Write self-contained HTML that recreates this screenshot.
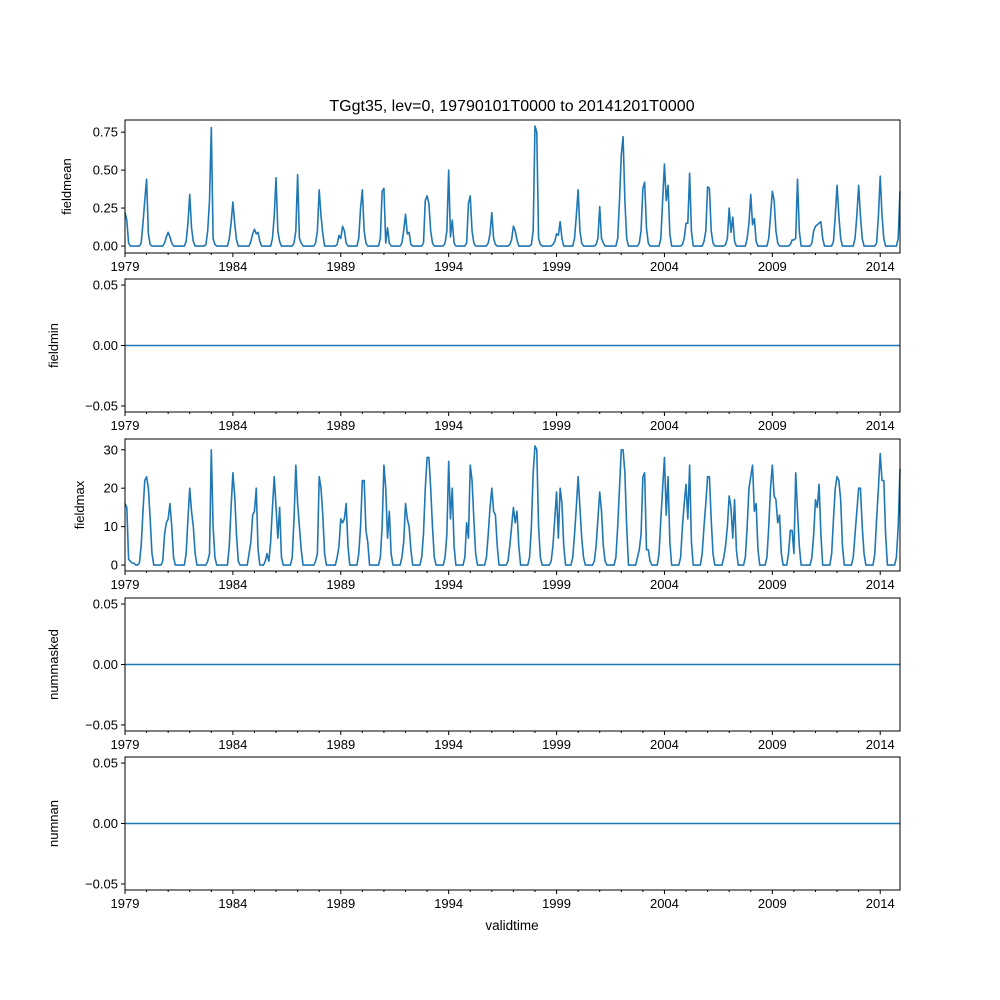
<!DOCTYPE html>
<html><head><meta charset="utf-8"><style>
html,body{margin:0;padding:0;background:#fff}
svg{display:block;font-family:"Liberation Sans","DejaVu Sans",sans-serif}
</style></head><body>
<svg id="chart" width="1000" height="1000" viewBox="0 0 1000 1000">
<text x="512" y="111" text-anchor="middle" font-size="16">TGgt35, lev=0, 19790101T0000 to 20141201T0000</text>
<text x="512" y="930" text-anchor="middle" font-size="13.5">validtime</text>
</svg>
<script>
const years = [1979,1980,1981,1982,1983,1984,1985,1986,1987,1988,1989,1990,1991,1992,1993,1994,1995,1996,1997,1998,1999,2000,2001,2002,2003,2004,2005,2006,2007,2008,2009,2010,2011,2012,2013,2014];
const xTickLabels = ["1979","1984","1989","1994","1999","2004","2009","2014"];
const fieldmeanRows = [
[0.22,0.17,0.02,0,0,0,0,0,0,0.02,0.15,0.3],
[0.44,0.08,0.01,0,0,0,0,0,0,0,0.02,0.06],
[0.09,0.06,0.02,0,0,0,0,0,0,0,0.03,0.15],
[0.34,0.12,0.03,0,0,0,0,0,0,0.01,0.1,0.3],
[0.78,0.05,0.01,0,0,0,0,0,0,0,0.05,0.15],
[0.29,0.15,0.04,0,0,0,0,0,0,0,0.03,0.08],
[0.11,0.08,0.09,0.03,0,0,0,0,0,0,0.05,0.2],
[0.45,0.1,0.03,0,0,0,0,0,0,0,0.02,0.1],
[0.47,0.05,0.02,0,0,0,0,0,0,0,0.02,0.1],
[0.37,0.2,0.08,0,0,0,0,0,0,0,0.01,0.07],
[0.05,0.13,0.1,0.02,0,0,0,0,0,0,0.05,0.25],
[0.37,0.1,0.02,0,0,0,0,0,0,0,0.05,0.36],
[0.38,0.02,0.12,0.02,0,0,0,0,0,0,0.02,0.1],
[0.21,0.08,0.09,0.01,0,0,0,0,0,0,0.02,0.3],
[0.33,0.28,0.1,0.02,0,0,0,0,0,0,0.02,0.1],
[0.5,0.06,0.17,0.02,0,0,0,0,0,0,0.02,0.28],
[0.33,0.1,0.02,0,0,0,0,0,0,0,0.02,0.08],
[0.22,0.05,0.01,0,0,0,0,0,0,0,0.01,0.04],
[0.13,0.1,0.04,0,0,0,0,0,0,0,0.01,0.1],
[0.79,0.75,0.05,0.01,0,0,0,0,0,0,0.01,0.03],
[0.08,0.07,0.16,0.05,0,0,0,0,0,0,0.05,0.2],
[0.37,0.1,0.02,0,0,0,0,0,0,0,0.01,0.05],
[0.26,0.05,0.02,0,0,0,0,0,0,0,0.05,0.3],
[0.6,0.72,0.3,0.05,0,0,0,0,0,0,0.02,0.1],
[0.38,0.42,0.12,0.02,0,0,0,0,0,0,0.05,0.3],
[0.54,0.3,0.4,0.08,0,0,0,0,0,0,0.01,0.05],
[0.15,0.15,0.48,0.1,0,0,0,0,0,0,0.03,0.1],
[0.39,0.38,0.1,0.02,0,0,0,0,0,0,0.01,0.05],
[0.25,0.09,0.19,0.03,0,0,0,0,0,0,0.05,0.15],
[0.34,0.14,0.18,0.03,0,0,0,0,0,0,0.05,0.2],
[0.36,0.3,0.1,0.02,0,0,0,0,0,0,0.01,0.04],
[0.04,0.05,0.44,0.1,0,0,0,0,0,0,0.02,0.1],
[0.13,0.14,0.15,0.16,0.05,0,0,0,0,0,0.03,0.2],
[0.4,0.2,0.05,0,0,0,0,0,0,0,0.05,0.2],
[0.4,0.2,0.05,0,0,0,0,0,0,0,0.02,0.2],
[0.46,0.2,0.05,0,0,0,0,0,0,0,0.05,0.36]];
const fieldmaxRows = [
[16,15,1.5,1,0.5,0.5,0,0,0.5,5,14,22],
[23,20,12,3,0,0,0,0,0,1,8,11],
[12,16,10,2,0,0,0,0,0,0,3,12],
[20,14,10,3,0,0,0,0,0,0,1,3],
[30,10,2,0,0,0,0,0,0,0,5,15],
[24,18,8,1,0,0,0,0,0,3,6,13],
[14,20,4,0,0,0,1,3,1,6,15,23],
[15,7,15,2,0,0,0,0,0,2,12,26],
[16,10,4,0,0,0,0,0,0,0,1,3],
[23,20,13,3,0,0,0,0,0,0,2,5],
[12,11,12,16,5,0,0,0,0,0,3,10],
[22,22,9,6,0,0,0,0,0,0,2,10],
[26,20,7,14,3,0,0,0,0,0,2,6],
[16,12,10,4,0,0,0,0,0,2,8,20],
[28,28,20,10,2,0,0,0,0,0,2,8],
[27,12,20,5,0,0,0,0,0,2,11,7],
[26,22,12,3,0,0,0,0,0,2,8,15],
[20,14,13,5,0,0,0,0,0,1,5,10],
[15,11,14,5,0,0,0,0,0,2,10,24],
[31,30,10,2,0,0,0,0,0,1,5,12],
[19,7,20,16,5,0,0,0,0,2,8,15],
[23,15,7,2,0,0,0,0,0,1,5,12],
[19,14,5,1,0,0,0,0,0,2,10,20],
[30,30,24,10,0,0,0,0,0,2,4,8],
[23,24,4,4,1,0,0,0,0,3,12,20],
[28,13,23,6,0,0,0,0,0,2,10,16],
[21,12,26,6,0,0,0,0,0,3,10,16],
[23,23,12,3,0,0,0,0,0,2,5,10],
[18,15,7,17,4,0,0,0,0,2,10,20],
[23,26,14,16,4,0,0,0,0,2,10,20],
[26,18,17,11,13,3,0,0,0,3,9,9],
[3,24,14,5,0,0,0,0,0,0,2,8],
[17,15,21,8,0,0,0,0,0,3,12,20],
[23,22,17,5,0,0,0,0,0,2,8,14],
[20,20,10,3,0,0,0,0,0,3,12,20],
[29,22,22,8,0,0,0,0,0,2,10,25]];
const meanTicks = [0,0.25,0.5,0.75];
const meanTickLabels = ["0.00","0.25","0.50","0.75"];
const maxTicks = [0,10,20,30];
const zeroTicks = [-0.05,0,0.05];
const zeroTickLabels = ["\u22120.05","0.00","0.05"];

const NS="http://www.w3.org/2000/svg";
const svg=document.getElementById('chart');
const X0=125,X1=900,T0=1979,T1=2014+11/12;
function xs(t){return X0+(t-T0)/(T1-T0)*(X1-X0);}
function mk(tag,attrs,parent){const e=document.createElementNS(NS,tag);for(const k in attrs)e.setAttribute(k,attrs[k]);(parent||svg).appendChild(e);return e;}
function flat(rows){const out=[];rows.forEach(r=>r.forEach(v=>out.push(v)));return out;}

const panels=[
 {name:'fieldmean',top:120,bot:253,ymin:-0.046,ymax:0.83,ticks:meanTicks,labels:meanTickLabels,data:flat(fieldmeanRows),lx:71},
 {name:'fieldmin',top:279,bot:412,ymin:-0.055,ymax:0.055,ticks:zeroTicks,labels:zeroTickLabels,data:null,lx:58},
 {name:'fieldmax',top:439,bot:571,ymin:-1.55,ymax:32.8,ticks:maxTicks,labels:maxTicks.map(String),data:flat(fieldmaxRows),lx:84},
 {name:'nummasked',top:598,bot:731,ymin:-0.055,ymax:0.055,ticks:zeroTicks,labels:zeroTickLabels,data:null,lx:58},
 {name:'numnan',top:757,bot:890,ymin:-0.055,ymax:0.055,ticks:zeroTicks,labels:zeroTickLabels,data:null,lx:58}
];
panels.forEach(p=>{
  const g=mk('g',{});
  
  
  const ys=v=>p.bot-(v-p.ymin)/(p.ymax-p.ymin)*(p.bot-p.top);
  // series
  let d='';
  if(p.data){p.data.forEach((v,i)=>{d+=(i?'L':'M')+xs(T0+i/12).toFixed(2)+','+ys(v).toFixed(2);});}
  else{d='M'+X0+','+ys(0)+'L'+X1+','+ys(0);}
  const line=mk('path',{d:d,fill:'none',stroke:'#1f77b4','stroke-width':1.6,'stroke-linejoin':'round'},g);
  
  
  const frame=mk('rect',{x:X0,y:p.top,width:X1-X0,height:p.bot-p.top,fill:'none',stroke:'#000','stroke-width':1},g);
  
  
  // y ticks
  p.ticks.forEach((v,i)=>{const y=ys(v);mk('line',{x1:X0-4,x2:X0,y1:y,y2:y,stroke:'#000'},g);
    const t=mk('text',{x:X0-7,y:y+4.5,'text-anchor':'end','font-size':13},g);t.textContent=p.labels[i];
    
    });
  // x ticks
  years.forEach(yr=>{const x=xs(yr);const major=(yr-1979)%5===0;
    mk('line',{x1:x,x2:x,y1:p.bot,y2:p.bot+(major?4:2),stroke:'#000'},g);});
  xTickLabels.forEach(lab=>{const t=mk('text',{x:xs(+lab),y:p.bot+18,'text-anchor':'middle','font-size':13},g);t.textContent=lab;
    
    });
  const cy=(p.top+p.bot)/2;
  const yl=mk('text',{x:p.lx,y:cy,'text-anchor':'middle','font-size':13,transform:'rotate(-90 '+p.lx+' '+cy+')'},g);
  yl.textContent=p.name;
  
  
});
</script>
</body></html>
